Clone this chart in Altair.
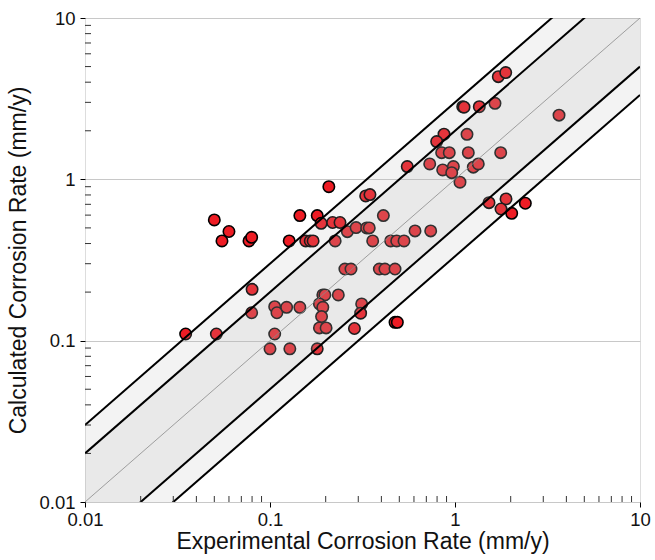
import altair as alt
import pandas as pd

# Measured points (experimental, calculated) in mm/y
exp_rate = [0.035, 0.05, 0.055, 0.06, 0.077, 0.0796, 0.127, 0.145, 0.18, 0.189,
            0.208, 0.156, 0.165, 0.171, 0.080, 0.0796, 0.0513, 0.106, 0.109, 0.123,
            0.145, 0.106, 0.100, 0.128, 0.18, 0.193, 0.198, 0.185, 0.193, 0.19,
            0.185, 0.201, 0.552, 0.73, 0.858, 0.98, 0.96, 1.064, 1.256, 1.336,
            0.329, 0.347, 0.41, 0.218, 0.239, 0.262, 0.292, 0.333, 0.344, 0.359,
            0.225, 0.449, 0.484, 0.53, 0.608, 0.739, 0.254, 0.274, 0.39, 0.418,
            0.474, 0.234, 0.313, 0.309, 0.286, 0.474, 0.488, 1.527, 1.887, 1.773,
            2.025, 2.40, 1.714, 1.88, 1.101, 1.119, 1.353, 1.645, 3.65, 0.872,
            0.796, 1.161, 0.847, 0.931, 1.18, 1.766]
calc_rate = [0.11, 0.56, 0.415, 0.475, 0.415, 0.437, 0.415, 0.596, 0.596, 0.534,
             0.90, 0.415, 0.415, 0.415, 0.208, 0.149, 0.11, 0.1625, 0.149, 0.161,
             0.161, 0.11, 0.089, 0.089, 0.089, 0.192, 0.192, 0.169, 0.161, 0.141,
             0.12, 0.12, 1.2, 1.246, 1.143, 1.2, 1.10, 0.96, 1.19, 1.246,
             0.789, 0.804, 0.596, 0.54, 0.54, 0.474, 0.502, 0.5, 0.5, 0.415,
             0.415, 0.415, 0.415, 0.415, 0.479, 0.479, 0.278, 0.278, 0.278, 0.278,
             0.278, 0.192, 0.169, 0.148, 0.119, 0.13, 0.13, 0.717, 0.756, 0.655,
             0.616, 0.711, 4.33, 4.59, 2.82, 2.80, 2.82, 2.96, 2.50, 1.904,
             1.714, 1.90, 1.464, 1.464, 1.464, 1.464]

axis_min, axis_max = 0.01, 10
major_ticks = [0.01, 0.1, 1, 10]
minor_ticks = [0.02, 0.03, 0.04, 0.05, 0.06, 0.07, 0.08, 0.09,
               0.2, 0.3, 0.4, 0.5, 0.6, 0.7, 0.8, 0.9,
               2, 3, 4, 5, 6, 7, 8, 9]
band_factors = [(1 / 3, 3), (1 / 2, 2)]
line_factors = [1 / 3, 1 / 2, 2, 3]

pts = pd.DataFrame({"x": exp_rate, "y": calc_rate})

W, H = 555, 484
xs = alt.Scale(type="log", domain=[axis_min, axis_max], nice=False)
ys = alt.Scale(type="log", domain=[axis_min, axis_max], nice=False)

FONT = "Liberation Sans"
x_axis = alt.Axis(values=major_ticks, format="~g", title="Experimental Corrosion Rate (mm/y)",
                  grid=False, domain=False, tickSize=5, tickColor="black", tickWidth=1,
                  labelFont=FONT, labelFontSize=18.5, labelColor="#111", labelPadding=3,
                  titleFont=FONT, titleFontSize=23, titleFontWeight="normal",
                  titleColor="#111", titlePadding=2, labelFlush=False)
y_axis = alt.Axis(values=major_ticks, format="~g", title="Calculated Corrosion Rate (mm/y)",
                  grid=True, gridColor="#c8c8c8", gridWidth=1, domain=False,
                  tickSize=5, tickColor="black", tickWidth=1,
                  labelFont=FONT, labelFontSize=18.5, labelColor="#111", labelPadding=5,
                  titleFont=FONT, titleFontSize=23, titleFontWeight="normal",
                  titleColor="#111", titlePadding=8, labelFlush=False)

points = alt.Chart(pts).mark_point(
    shape="circle", filled=True, size=130, fill="#ee1c24", stroke="black",
    strokeWidth=1.6, opacity=1
).encode(
    x=alt.X("x:Q", scale=xs, axis=x_axis),
    y=alt.Y("y:Q", scale=ys, axis=y_axis),
)

band_rows = []
for i, (lo, hi) in enumerate(band_factors):
    for xv in [axis_min, axis_max]:
        band_rows.append({"band": i, "x": xv, "lo": xv * lo, "hi": xv * hi})
bands_df = pd.DataFrame(band_rows)

outer_band = alt.Chart(bands_df[bands_df.band == 0]).mark_area(
    color="#b4b4b4", opacity=0.16, clip=True
).encode(x=alt.X("x:Q", scale=xs), y=alt.Y("lo:Q", scale=ys), y2="hi:Q")
inner_band = alt.Chart(bands_df[bands_df.band == 1]).mark_area(
    color="#b4b4b4", opacity=0.14, clip=True
).encode(x=alt.X("x:Q", scale=xs), y=alt.Y("lo:Q", scale=ys), y2="hi:Q")

line_rows = []
for f in line_factors:
    for xv in [axis_min, axis_max]:
        line_rows.append({"f": str(f), "x": xv, "y": xv * f})
lines = alt.Chart(pd.DataFrame(line_rows)).mark_line(
    color="black", strokeWidth=2, clip=True
).encode(x=alt.X("x:Q", scale=xs), y=alt.Y("y:Q", scale=ys), detail="f:N")

diag = alt.Chart(pd.DataFrame({"x": [axis_min, axis_max], "y": [axis_min, axis_max]})).mark_line(
    color="#8a8a8a", strokeWidth=0.8, clip=True
).encode(x=alt.X("x:Q", scale=xs), y=alt.Y("y:Q", scale=ys))

minor_df = pd.DataFrame({"v": minor_ticks})
ytick_minor = alt.Chart(minor_df).mark_rule(color="#333", strokeWidth=1).encode(
    y=alt.Y("v:Q", scale=ys), x=alt.value(0), x2=alt.value(6))
xtick_minor = alt.Chart(minor_df).mark_rule(color="#333", strokeWidth=1).encode(
    x=alt.X("v:Q", scale=xs), y=alt.value(H), y2=alt.value(H - 6))

chart = alt.layer(
    points, outer_band, inner_band, diag, lines, ytick_minor, xtick_minor
).properties(
    width=W, height=H,
    autosize=alt.AutoSizeParams(type="none"),
    padding={"left": 85, "top": 18, "right": 15, "bottom": 58},
).configure_view(
    stroke="black", strokeWidth=2.2
).configure(background="white")

chart.save("out.html", embed_options={"renderer": "svg", "actions": False})
